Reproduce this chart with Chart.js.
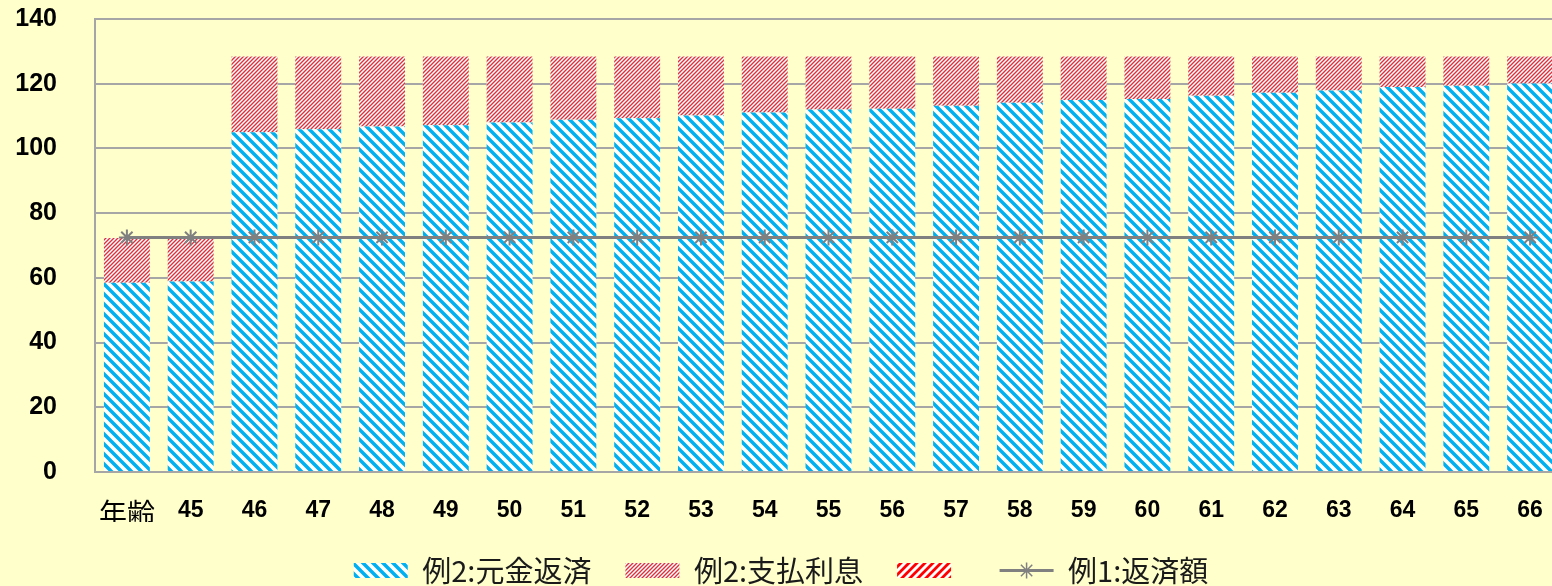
<!DOCTYPE html>
<html>
<head>
<meta charset="utf-8">
<script src="https://cdn.jsdelivr.net/npm/chart.js@4.4.1/dist/chart.umd.min.js"></script>
<style>
    body { margin: 0; background: #FFFFCC; }
    #wrap { width: 1552px; height: 586px; overflow: hidden; }
</style>
</head>
<body>
<div id="wrap"><canvas id="loanChart" width="1600" height="586"></canvas></div>
<script>
const ages = ['年齢', '45', '46', '47', '48', '49', '50', '51', '52', '53', '54', '55',
    '56', '57', '58', '59', '60', '61', '62', '63', '64', '65', '66'];
const principal = [58.5, 58.9, 105.0, 105.9, 106.8, 107.2, 108.0, 108.9, 109.3, 110.2, 111.1, 112.0,
    112.3, 113.2, 114.1, 115.0, 115.3, 116.3, 117.2, 117.9, 119.0, 119.4, 120.1];
const interest = [13.8, 13.4, 23.4, 22.5, 21.6, 21.2, 20.4, 19.5, 19.1, 18.2, 17.3, 16.4,
    16.1, 15.2, 14.3, 13.4, 13.1, 12.1, 11.2, 10.5, 9.4, 9.0, 8.3];
const blank = [0, 0, 0, 0, 0, 0, 0, 0, 0, 0, 0, 0, 0, 0, 0, 0, 0, 0, 0, 0, 0, 0, 0];
const payment1 = [72.5, 72.5, 72.5, 72.5, 72.5, 72.5, 72.5, 72.5, 72.5, 72.5, 72.5, 72.5,
    72.5, 72.5, 72.5, 72.5, 72.5, 72.5, 72.5, 72.5, 72.5, 72.5, 72.5];
const seriesNames = ['例2:元金返済', '例2:支払利息', '', '例1:返済額'];

const gridColor = '#A6A6A6';
const lineColor = '#808080';
const legendBox = 54;

// striped fill, dir '\' or '/'
function hatch(color, size, width, dir) {
    const c = document.createElement('canvas');
    c.width = size;
    c.height = size;
    const g = c.getContext('2d');
    g.fillStyle = '#ffffff';
    g.fillRect(0, 0, size, size);
    g.strokeStyle = color;
    g.lineWidth = width;
    g.beginPath();
    for (let k = -1; k <= 1; k++) {
        if (dir === '\\') {
            g.moveTo(k * size - 1, -1);
            g.lineTo(k * size + size + 1, size + 1);
        } else {
            g.moveTo(k * size - 1, size + 1);
            g.lineTo(k * size + size + 1, -1);
        }
    }
    g.stroke();
    return g.createPattern(c, 'repeat');
}

const blueHatch = hatch('#00B0F0', 10, 3.5, '\\');
const redThin = hatch('#D8323F', 4, 1.4, '/');
const redBold = hatch('#FF0000', 8, 2.8, '/');

// line + star sample for the 4th legend entry
const lineLegend = {
    id: 'lineLegend',
    afterDraw(chart) {
        const boxes = chart.legend.legendHitBoxes;
        if (!boxes || boxes.length < 4) return;
        const hb = boxes[3];
        const ctx = chart.ctx;
        const y = hb.top + hb.height / 2;
        const x0 = hb.left, x1 = hb.left + legendBox;
        ctx.save();
        ctx.strokeStyle = lineColor;
        ctx.lineWidth = 3;
        ctx.beginPath();
        ctx.moveTo(x0, y);
        ctx.lineTo(x1, y);
        ctx.stroke();
        const cx = (x0 + x1) / 2, r = 8;
        ctx.lineWidth = 1.5;
        ctx.beginPath();
        for (let a = 0; a < 4; a++) {
            const t = a * Math.PI / 4;
            ctx.moveTo(cx - r * Math.cos(t), y - r * Math.sin(t));
            ctx.lineTo(cx + r * Math.cos(t), y + r * Math.sin(t));
        }
        ctx.stroke();
        ctx.restore();
    }
};

new Chart(document.getElementById('loanChart'), {
    type: 'bar',
    data: {
        labels: ages,
        datasets: [{
            label: seriesNames[0],
            data: principal,
            backgroundColor: blueHatch,
            borderWidth: 0,
            stack: 'loan',
            order: 1
        }, {
            label: seriesNames[1],
            data: interest,
            backgroundColor: redThin,
            borderWidth: 0,
            stack: 'loan',
            order: 1
        }, {
            label: seriesNames[2],
            data: blank,
            backgroundColor: redBold,
            borderWidth: 0,
            stack: 'loan',
            order: 1
        }, {
            type: 'line',
            label: seriesNames[3],
            data: payment1,
            borderColor: lineColor,
            backgroundColor: 'rgba(0,0,0,0)',
            borderWidth: 3,
            pointStyle: 'star',
            pointRadius: 8,
            pointBorderColor: lineColor,
            pointBorderWidth: 2,
            stack: 'line',
            order: 0
        }]
    },
    options: {
        responsive: false,
        animation: false,
        layout: {
            padding: { top: 19, right: 38, bottom: 0, left: 0 }
        },
        scales: {
            x: {
                stacked: true,
                barPercentage: 0.64,
                categoryPercentage: 1,
                afterFit: function (scale) { scale.height = 50; },
                grid: { display: false, drawTicks: false },
                border: { display: true, color: gridColor, width: 2 },
                ticks: {
                    color: '#000',
                    padding: 25,
                    maxRotation: 0,
                    autoSkip: false,
                    font: function (c) {
                        if (c.index === 0) {
                            return { family: '"Noto Sans CJK JP", sans-serif', size: 28, weight: 'normal' };
                        }
                        return { family: '"Liberation Sans", Arial, sans-serif', size: 23, weight: 'bold' };
                    }
                }
            },
            y: {
                stacked: true,
                min: 0,
                max: 140,
                afterFit: function (scale) {
                    scale.width = 95;
                    scale.paddingTop = 12;
                    scale.paddingBottom = 12;
                },
                grid: { color: gridColor, lineWidth: 2, drawTicks: false },
                border: { display: true, color: gridColor, width: 2 },
                ticks: {
                    stepSize: 20,
                    color: '#000',
                    padding: 38,
                    font: { family: '"Liberation Sans", Arial, sans-serif', size: 25, weight: 'bold' }
                }
            }
        },
        plugins: {
            tooltip: { enabled: false },
            legend: {
                position: 'bottom',
                maxHeight: 64,
                labels: {
                    boxWidth: legendBox,
                    boxHeight: 15,
                    padding: 34,
                    color: '#1a1a1a',
                    font: { family: '"Noto Sans CJK JP", sans-serif', size: 29 },
                    sort: (a, b) => a.datasetIndex - b.datasetIndex,
                    generateLabels: function (chart) {
                        const items = Chart.defaults.plugins.legend.labels.generateLabels(chart);
                        items.forEach(function (it) {
                            it.lineWidth = 0;
                            if (it.datasetIndex === 3) {
                                it.fillStyle = 'rgba(0,0,0,0)';
                                it.strokeStyle = 'rgba(0,0,0,0)';
                            }
                        });
                        return items;
                    }
                }
            }
        }
    },
    plugins: [lineLegend]
});
</script>
</body>
</html>
